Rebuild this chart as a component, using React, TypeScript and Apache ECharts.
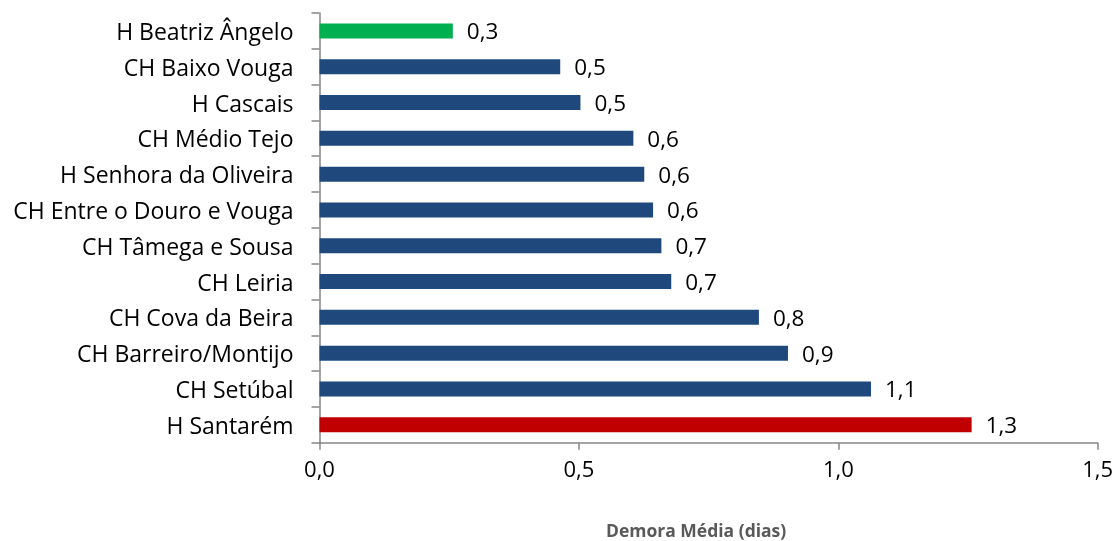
import React, { useEffect, useRef } from "react";
import * as echarts from "echarts";

const categories = [
  "H Beatriz Ângelo",
  "CH Baixo Vouga",
  "H Cascais",
  "CH Médio Tejo",
  "H Senhora da Oliveira",
  "CH Entre o Douro e Vouga",
  "CH Tâmega e Sousa",
  "CH Leiria",
  "CH Cova da Beira",
  "CH Barreiro/Montijo",
  "CH Setúbal",
  "H Santarém",
];
const values = [0.257, 0.464, 0.503, 0.605, 0.626, 0.643, 0.659, 0.678, 0.847, 0.903, 1.063, 1.257];
const barColors = [
  "#00B050", "#1F497D", "#1F497D", "#1F497D", "#1F497D", "#1F497D",
  "#1F497D", "#1F497D", "#1F497D", "#1F497D", "#1F497D", "#C00000",
];
const xTicks = [0, 0.5, 1.0, 1.5];
const axisTitle = "Demora Média (dias)";

const fmt = (v: number) => v.toFixed(1).replace(".", ",");

export default function App() {
  const ref = useRef<HTMLDivElement>(null);
  useEffect(() => {
    if (!ref.current) return;
    const chart = echarts.init(ref.current, null, { renderer: "svg" });
    const font = "'Open Sans', 'Noto Sans', sans-serif";
    chart.setOption({
      animation: false,
      grid: {
        left: 319.5,
        width: 778.2,
        top: 13,
        height: 429.7,
        containLabel: false,
        outerBoundsMode: "none",
      },
      xAxis: {
        type: "value",
        min: xTicks[0],
        max: xTicks[xTicks.length - 1],
        interval: 0.5,
        splitLine: { show: false },
        axisLine: { show: true, lineStyle: { color: "#868686", width: 1.5 } },
        axisTick: { show: true, length: 7, lineStyle: { color: "#868686", width: 1.5 } },
        axisLabel: {
          color: "#000",
          fontFamily: font,
          fontSize: 22,
          margin: 14,
          formatter: (v: number) => fmt(v),
        },
        name: axisTitle,
        nameLocation: "middle",
        nameGap: 78,
        nameTextStyle: {
          color: "#595959",
          fontFamily: font,
          fontWeight: "bold",
          fontSize: 17.5,
          padding: [0, 25, 0, 0],
        },
      },
      yAxis: {
        type: "category",
        data: categories,
        inverse: true,
        axisLine: { show: true, lineStyle: { color: "#868686", width: 1.5 } },
        axisTick: { show: true, length: 8, lineStyle: { color: "#868686", width: 1.5 } },
        axisLabel: { color: "#000", fontFamily: font, fontSize: 23, margin: 26 },
        splitLine: { show: false },
      },
      series: [
        {
          type: "bar",
          data: values.map((v, i) => ({ value: v, itemStyle: { color: barColors[i] } })),
          barWidth: 15,
          label: {
            show: true,
            position: "right",
            distance: 14,
            color: "#000",
            fontFamily: font,
            fontSize: 22.5,
            formatter: (p: any) => fmt(p.value),
          },
        },
      ],
    });
    return () => chart.dispose();
  }, []);
  return (
    <div
      ref={ref}
      style={{ position: "fixed", left: 0, top: 0, width: 1116, height: 541 }}
    />
  );
}
